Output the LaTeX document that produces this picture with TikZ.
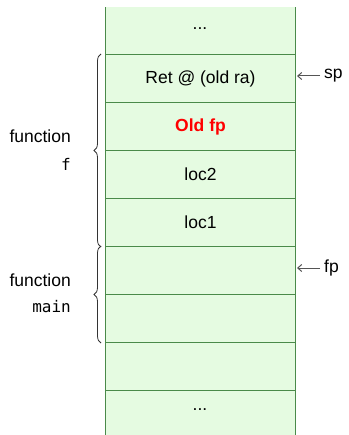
\documentclass[tikz,border=0pt]{standalone}
\usepackage{fontspec}
\setmainfont{Liberation Sans}
\setmonofont{DejaVu Sans Mono}
\usetikzlibrary{decorations.pathreplacing,arrows.meta}
\definecolor{cellfill}{HTML}{E5FBE1}
\definecolor{cellline}{HTML}{4A8A4A}
\definecolor{arrowgray}{HTML}{555555}
\begin{document}
\begin{tikzpicture}[x=1pt,y=-1pt,
  cell/.style={draw=cellline,line width=1pt,fill=cellfill,minimum width=190pt,minimum height=48pt,inner sep=0pt,font=\fontsize{17.5}{20}\selectfont,anchor=north west},
  lbl/.style={font=\fontsize{17.5}{20}\selectfont,inner sep=0pt},
  monolbl/.style={font=\fontsize{16}{18}\ttfamily,inner sep=0pt},
  brc/.style={decorate,decoration={brace,amplitude=7pt,mirror},line width=0.8pt,draw=black!80},
  ptr/.style={-{Straight Barb[length=4pt,width=7pt]},draw=arrowgray,line width=1pt}]
\useasboundingbox (0,0) rectangle (348,435);
\begin{scope}
\clip (0,7.5) rectangle (348,435);
\node[cell] (c0) at (105,6) {};
\node[cell] (c1) at (105,54) {Ret @ (old ra)};
\node[cell] (c2) at (105,102) {\textcolor{red}{\textbf{Old fp}}};
\node[cell] (c3) at (105,150) {loc2};
\node[cell] (c4) at (105,198) {loc1};
\node[cell] (c5) at (105,246) {};
\node[cell] (c6) at (105,294) {};
\node[cell] (c7) at (105,342) {};
\node[cell] (c8) at (105,390) {};
\end{scope}
\node[lbl] (d0) at (200,29) {...};
\node[lbl] (d8) at (200,410) {...};
% braces
\draw[brc] ([xshift=-4pt]c1.north west) coordinate (b1t) -- ([xshift=-4pt]c4.south west) coordinate (b1b);
\draw[brc] ([xshift=-4pt]c5.north west) coordinate (b2t) -- ([xshift=-4pt]c6.south west) coordinate (b2b);
\node[lbl,anchor=east] (ff) at (71,136) {function};
\node[monolbl,anchor=east] (fn) at (71,164) {f};
\node[lbl,anchor=east] (mf) at (71,280) {function};
\node[monolbl,anchor=east] (mn) at (71,307) {main};
% pointers
\node[lbl,anchor=west] (sp) at (324,76) {sp};
\node[lbl,anchor=west] (fp) at (324,268) {fp};
\draw[ptr] (sp.west) ++(-4,0) -- ([xshift=1pt]c1.east |- sp.west);
\draw[ptr] (fp.west) ++(-4,0) -- ([xshift=1pt]c5.east |- fp.west);
\end{tikzpicture}
\end{document}
